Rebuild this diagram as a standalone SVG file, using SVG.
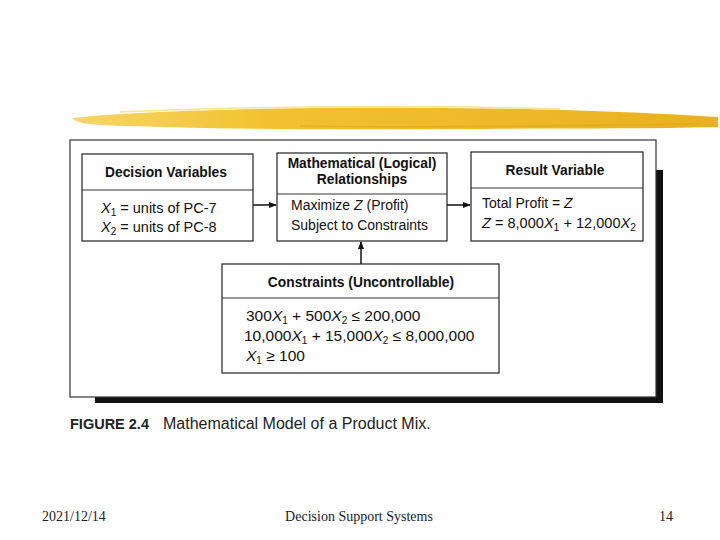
<svg xmlns="http://www.w3.org/2000/svg" width="720" height="540" viewBox="0 0 720 540">
<style>
.box{fill:#fff;stroke:#222;stroke-width:1.2}
.div{stroke:#333;stroke-width:1}
.t{font-family:"Liberation Sans",Arial,sans-serif;font-size:13.8px;font-weight:bold;fill:#111;text-anchor:middle}
.b{font-family:"Liberation Sans",Arial,sans-serif;font-size:14px;fill:#111}
.i{font-style:italic}
.s{font-size:10px}
.f{font-family:"Liberation Serif","Times New Roman",serif;font-size:14px;fill:#222}
.c{stroke:#111;stroke-width:1.5;fill:none}
</style>
<defs>
<marker id="ah" markerWidth="8" markerHeight="8" refX="7" refY="4" orient="auto" markerUnits="userSpaceOnUse">
<path d="M0,1 L8,4 L0,7 Z" fill="#111"/>
</marker>
<linearGradient id="yg" x1="0" y1="0" x2="1" y2="0">
<stop offset="0" stop-color="#f5d66a"/>
<stop offset="0.3" stop-color="#f2c230"/>
<stop offset="1" stop-color="#e9b020"/>
</linearGradient>
</defs>
<rect width="720" height="540" fill="#fff"/>
<g id="brush">
<path d="M72,118 C150,110 300,107 420,108 C550,108 650,113 718,117 L718,127 C640,129 560,128 460,129 C330,130 200,129 100,125 C85,124 76,122 72,118 Z" fill="url(#yg)"/>
<path d="M120,112 C250,106 420,105 560,109" stroke="#f7dc7a" stroke-width="1.5" fill="none" opacity="0.8"/>
<path d="M300,126 C420,128 560,126 700,124" stroke="#e0a818" stroke-width="1.5" fill="none" opacity="0.7"/>
</g>
<g id="frame">
<rect x="656" y="170" width="7" height="233" fill="#111"/>
<rect x="95" y="397" width="568" height="6" fill="#111"/>
<rect x="70" y="140" width="586" height="257" fill="#fff" stroke="#333" stroke-width="1.2"/>
</g>
<g id="connectors">
<line class="c" x1="253" y1="205" x2="276" y2="205" marker-end="url(#ah)"/>
<line class="c" x1="447" y1="205" x2="470" y2="205" marker-end="url(#ah)"/>
<line class="c" x1="361" y1="264" x2="361" y2="242" marker-end="url(#ah)"/>
</g>
<g id="decision">
<rect class="box" x="82" y="154" width="171" height="87"/>
<line class="div" x1="82" y1="190" x2="253" y2="190"/>
<text class="t" x="166" y="177">Decision Variables</text>
<text class="b" x="101" y="213" style="font-size:14.5px"><tspan class="i">X</tspan><tspan class="s" dy="3">1</tspan><tspan dy="-3"> = units of PC-7</tspan></text>
<text class="b" x="101" y="232" style="font-size:14.5px"><tspan class="i">X</tspan><tspan class="s" dy="3">2</tspan><tspan dy="-3"> = units of PC-8</tspan></text>
</g>
<g id="math">
<rect class="box" x="277" y="153" width="170" height="88"/>
<line class="div" x1="277" y1="194" x2="447" y2="194"/>
<text class="t" x="362" y="168">Mathematical (Logical)</text>
<text class="t" x="362" y="184">Relationships</text>
<text class="b" x="291" y="210">Maximize <tspan class="i">Z</tspan> (Profit)</text>
<text class="b" x="291" y="230">Subject to Constraints</text>
</g>
<g id="result">
<rect class="box" x="471" y="152" width="172" height="89"/>
<line class="div" x1="471" y1="188" x2="643" y2="188"/>
<text class="t" x="555" y="175">Result Variable</text>
<text class="b" x="482" y="208">Total Profit = <tspan class="i">Z</tspan></text>
<text class="b" x="482" y="228" textLength="154" lengthAdjust="spacingAndGlyphs"><tspan class="i">Z</tspan> = 8,000<tspan class="i">X</tspan><tspan class="s" dy="3">1</tspan><tspan dy="-3"> + 12,000</tspan><tspan class="i">X</tspan><tspan class="s" dy="3">2</tspan></text>
</g>
<g id="constraints">
<rect class="box" x="222" y="264" width="277" height="109"/>
<line class="div" x1="222" y1="298" x2="499" y2="298"/>
<text class="t" x="361" y="287">Constraints (Uncontrollable)</text>
<text class="b" x="246" y="321" style="font-size:15.5px">300<tspan class="i">X</tspan><tspan class="s" dy="3">1</tspan><tspan dy="-3"> + 500</tspan><tspan class="i">X</tspan><tspan class="s" dy="3">2</tspan><tspan dy="-3"> ≤ 200,000</tspan></text>
<text class="b" x="244" y="341" style="font-size:15.5px">10,000<tspan class="i">X</tspan><tspan class="s" dy="3">1</tspan><tspan dy="-3"> + 15,000</tspan><tspan class="i">X</tspan><tspan class="s" dy="3">2</tspan><tspan dy="-3"> ≤ 8,000,000</tspan></text>
<text class="b" x="246" y="361" style="font-size:15.5px"><tspan class="i">X</tspan><tspan class="s" dy="3">1</tspan><tspan dy="-3"> ≥ 100</tspan></text>
</g>
<g id="caption">
<text x="70" y="429" font-family="'Liberation Sans',Arial,sans-serif" font-size="14.5" font-weight="bold" fill="#222">FIGURE 2.4</text>
<text x="163" y="429" font-family="'Liberation Sans',Arial,sans-serif" font-size="16" fill="#222">Mathematical Model of a Product Mix.</text>
</g>
<g id="footer">
<text class="f" x="42" y="521">2021/12/14</text>
<text class="f" x="359" y="521" text-anchor="middle">Decision Support Systems</text>
<text class="f" x="659" y="521">14</text>
</g>
</svg>
